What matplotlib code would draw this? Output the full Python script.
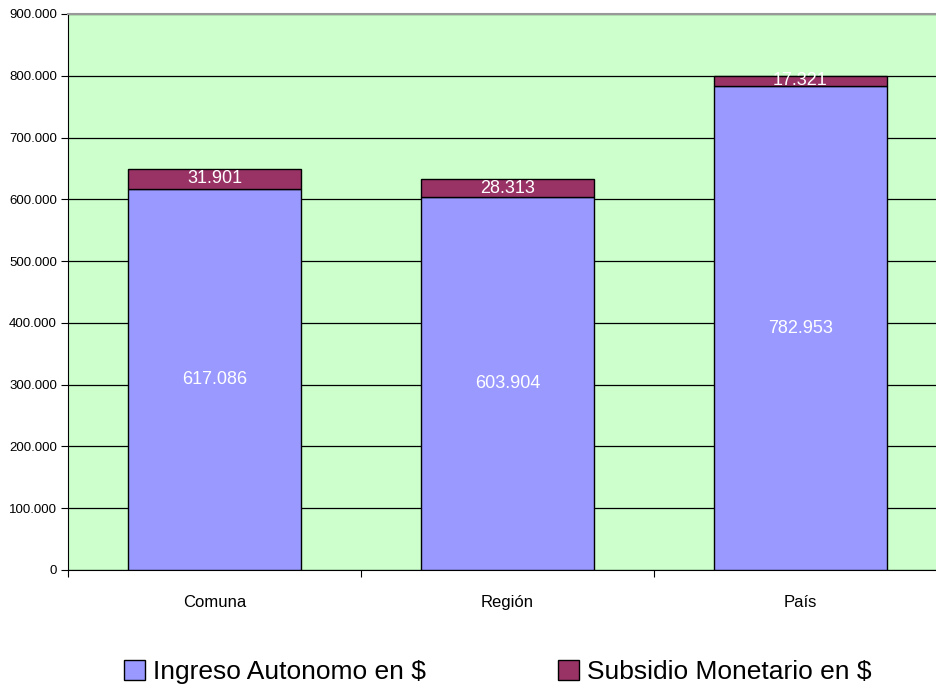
import matplotlib
matplotlib.use("Agg")
import matplotlib.pyplot as plt
from matplotlib.patches import Patch

categories = ["Comuna", "Región", "País"]
ingreso = [617086, 603904, 782953]
subsidio = [31901, 28313, 17321]
yticks = [0, 100000, 200000, 300000, 400000, 500000, 600000, 700000, 800000, 900000]

def fmt(v):
    return f"{v:,}".replace(",", ".")

plt.rcParams['font.family'] = ['Liberation Sans', 'DejaVu Sans']

fig = plt.figure(figsize=(9.36, 6.92), dpi=100)
W, H = 936, 692
ax = fig.add_axes([68 / W, (H - 570) / H, 879 / W, 556 / H])
ax.set_facecolor("#ccffcc")

x = list(range(len(categories)))
ax.bar(x, ingreso, width=0.59, color="#9999ff", edgecolor="black", linewidth=1, zorder=3)
ax.bar(x, subsidio, bottom=ingreso, width=0.59, color="#993366", edgecolor="black", linewidth=1, zorder=3)

for i in x:
    ax.text(i, ingreso[i] / 2, fmt(ingreso[i]), color="white", ha="center", va="center", fontsize=13, zorder=4)
    ax.text(i, ingreso[i] + subsidio[i] / 2, fmt(subsidio[i]), color="white", ha="center", va="center", fontsize=13, zorder=4)

ax.set_xlim(-0.5, 2.5)
ax.set_ylim(0, 900000)
ax.set_yticks(yticks)
ax.set_yticklabels([fmt(v) for v in yticks], fontsize=9.5)
ax.yaxis.grid(True, color="black", linewidth=0.9, zorder=0)
ax.set_axisbelow(True)

ax.set_xticks([-0.5, 0.5, 1.5, 2.5])
ax.set_xticklabels([])
ax.set_xticks(x, minor=True)
ax.set_xticklabels(categories, minor=True, fontsize=12)
ax.tick_params(axis="x", which="minor", length=0, pad=18)
ax.tick_params(axis="x", which="major", length=5, direction="out", color="black")
ax.tick_params(axis="y", length=5, direction="out", pad=3)

ax.spines["right"].set_visible(False)
ax.spines["top"].set_color("#999999")
ax.spines["top"].set_linewidth(1.5)
ax.spines["left"].set_color("black")
ax.spines["bottom"].set_color("black")

handles = [Patch(facecolor="#9999ff", edgecolor="black", label="Ingreso Autonomo en $"),
           Patch(facecolor="#993366", edgecolor="black", label="Subsidio Monetario en $")]
fig.legend(handles=handles, loc="center", bbox_to_anchor=(498 / W, 1 - 672 / H), ncol=2,
           frameon=False, prop={"size": 19}, columnspacing=5.0,
           handlelength=0.8, handleheight=0.8, handletextpad=0.3)

fig.savefig("out.png", dpi=100)
